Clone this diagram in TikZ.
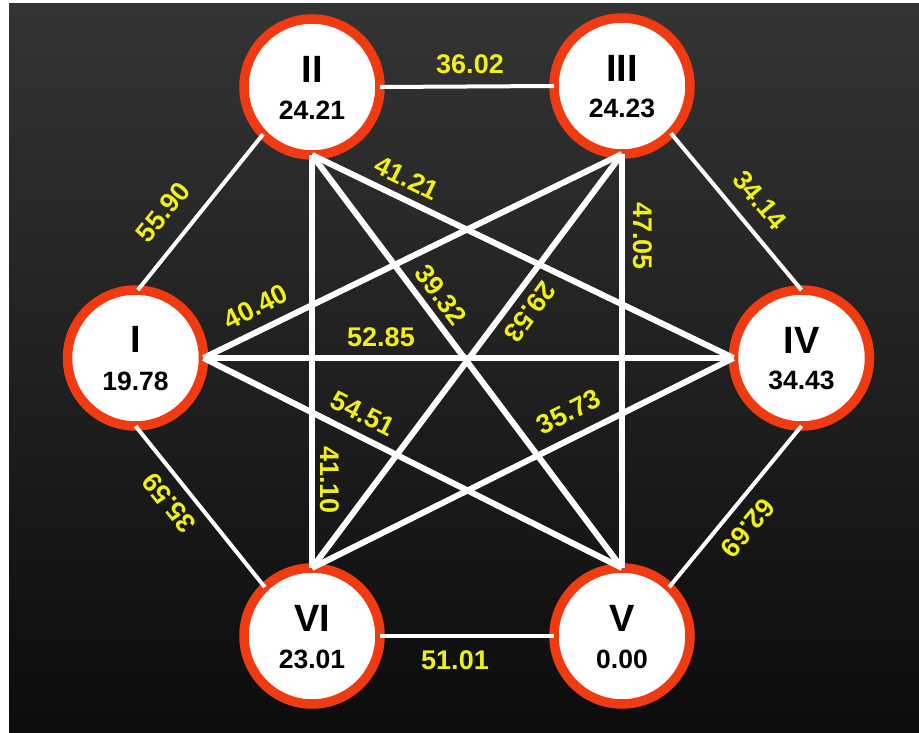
\documentclass[tikz,border=0pt]{standalone}
\usepackage{fontspec}
\setmainfont{Liberation Sans}
\definecolor{ringred}{RGB}{240,58,18}
\definecolor{lab}{RGB}{240,240,20}
\definecolor{bgtop}{RGB}{52,52,52}
\definecolor{bgbot}{RGB}{12,12,12}
\begin{document}
\begin{tikzpicture}[x=1pt,y=-1pt,
  city/.style={circle, draw=ringred, line width=9.5pt, fill=white, minimum size=136pt, inner sep=0pt, outer sep=0pt},
  rom/.style={font=\fontsize{38}{38}\selectfont\bfseries, text=black, inner sep=0pt},
  num/.style={font=\fontsize{26.5}{26.5}\selectfont\bfseries, text=black, inner sep=0pt},
  rim/.style={draw=white, line width=4pt},
  diag/.style={draw=white, line width=6pt},
  dist/.style={font=\fontsize{27}{27}\selectfont\bfseries, text=lab, inner sep=0pt}]
\useasboundingbox (0,0) rectangle (919,733);
\fill[white] (0,0) rectangle (919,733);
\shade[top color=bgtop, bottom color=bgbot] (9,4) rectangle (919,733);

\node[city] (I) at (135.5,358) {};
\node[city] (II) at (312,87) {};
\node[city] (III) at (622,86) {};
\node[city] (IV) at (801.5,358) {};
\node[city] (V) at (622,636) {};
\node[city] (VI) at (312,636) {};

\draw[rim] (I.88) -- (II.224);
\draw[rim] (II.east) -- (III.west);
\draw[rim] (III.-44) -- (IV.north);
\draw[rim] (IV.south) -- (V.46);
\draw[rim] (V.west) -- (VI.east);
\draw[rim] (VI.134) -- (I.south);

\draw[diag] (II.south) -- (VI.north);
\draw[diag] (II.south) -- (V.north);
\draw[diag] (II.south) -- (IV.west);
\draw[diag] (III.south) -- (VI.north);
\draw[diag] (III.south) -- (V.north);
\draw[diag] (III.south) -- (I.east);
\draw[diag] (I.east) -- (IV.west);
\draw[diag] (I.east) -- (V.north);
\draw[diag] (IV.west) -- (VI.north);

\node[rom] (tI) at ([yshift=19pt]I.center) {I};
\node[num] (nI) at ([yshift=-23pt]I.center) {19.78};
\node[rom] (tII) at ([yshift=18pt]II.center) {II};
\node[num] (nII) at ([yshift=-23pt]II.center) {24.21};
\node[rom] (tIII) at ([yshift=18pt]III.center) {III};
\node[num] (nIII) at ([yshift=-22pt]III.center) {24.23};
\node[rom] (tIV) at ([yshift=18pt]IV.center) {IV};
\node[num] (nIV) at ([yshift=-22pt]IV.center) {34.43};
\node[rom] (tV) at ([yshift=18pt]V.center) {V};
\node[num] (nV) at ([yshift=-23pt]V.center) {0.00};
\node[rom] (tVI) at ([yshift=18pt]VI.center) {VI};
\node[num] (nVI) at ([yshift=-23pt]VI.center) {23.01};

\node[dist] (d1) at (470,64) {36.02};
\node[dist, rotate=51] (d2) at (163,212) {55.90};
\node[dist, rotate=-50] (d3) at (760,200) {34.14};
\node[dist, rotate=129] (d4) at (169,503) {35.59};
\node[dist, rotate=230.5] (d5) at (748,528) {62.69};
\node[dist, rotate=-26] (d6) at (407,178) {41.21};
\node[dist, rotate=-90] (d7) at (643,236) {47.05};
\node[dist, rotate=-53.4] (d8) at (441,295) {39.32};
\node[dist, rotate=234] (d9) at (530,312) {29.53};
\node[dist, rotate=26.5] (d10) at (256,307) {40.40};
\node[dist] (d11) at (381,337) {52.85};
\node[dist, rotate=-26.8] (d12) at (363,414) {54.51};
\node[dist, rotate=26.7] (d13) at (569,412) {35.73};
\node[dist, rotate=-90] (d14) at (330,480) {41.10};
\node[dist] (d15) at (455,660) {51.01};
\end{tikzpicture}
\end{document}
